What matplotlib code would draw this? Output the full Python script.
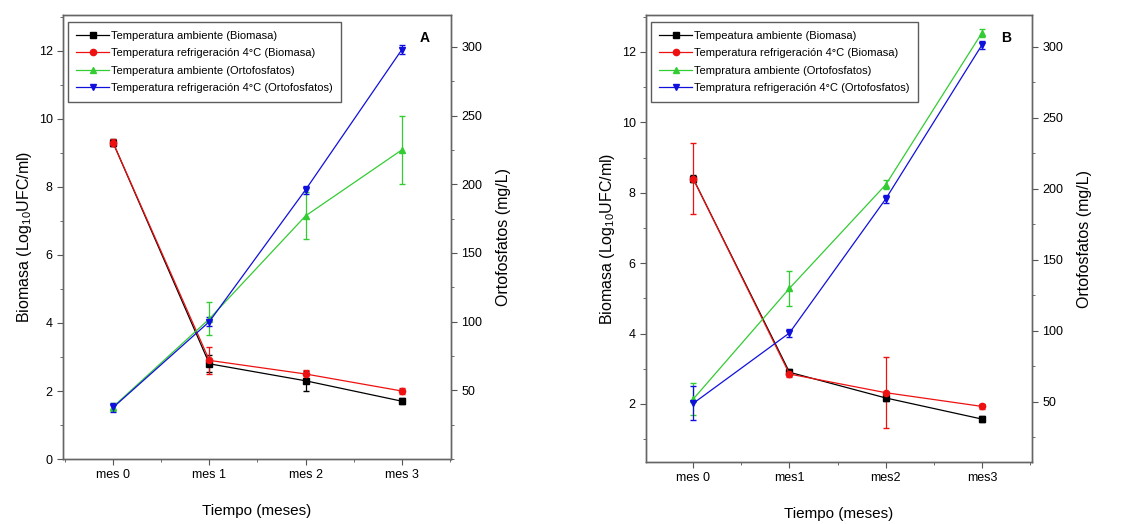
import matplotlib.pyplot as plt
from matplotlib.ticker import MultipleLocator

plt.rcParams["font.family"] = ["Liberation Sans", "DejaVu Sans"]
plt.rcParams["mathtext.fontset"] = "custom"
plt.rcParams["mathtext.rm"] = "Liberation Sans"
plt.rcParams["mathtext.default"] = "regular"

meses_a = ["mes 0", "mes 1", "mes 2", "mes 3"]
meses_b = ["mes 0", "mes1", "mes2", "mes3"]

# panel A
bio_amb_a = [9.3, 2.8, 2.3, 1.7]
bio_amb_a_err = [0.1, 0.25, 0.3, 0.08]
bio_ref_a = [9.3, 2.9, 2.5, 2.0]
bio_ref_a_err = [0.1, 0.4, 0.12, 0.08]
orto_amb_a = [38, 102, 177, 225]
orto_amb_a_err = [3, 12, 17, 25]
orto_ref_a = [37.5, 100, 196, 298]
orto_ref_a_err = [3, 3, 3, 3]

# panel B
bio_amb_b = [8.4, 2.9, 2.17, 1.57]
bio_amb_b_err = [0.1, 0.08, 0.1, 0.08]
bio_ref_b = [8.4, 2.85, 2.32, 1.93]
bio_ref_b_err = [1.0, 0.08, 1.0, 0.08]
orto_amb_b = [52, 130, 203, 310]
orto_amb_b_err = [11, 12.5, 3, 3]
orto_ref_b = [49, 98.6, 193, 301.5]
orto_ref_b_err = [12, 3, 3, 3]

labels_a = [
    "Temperatura ambiente (Biomasa)",
    "Temperatura refrigeración 4°C (Biomasa)",
    "Temperatura ambiente (Ortofosfatos)",
    "Temperatura refrigeración 4°C (Ortofosfatos)",
]
labels_b = [
    "Tempeatura ambiente (Biomasa)",
    "Temperatura refrigeración 4°C (Biomasa)",
    "Tempratura ambiente (Ortofosfatos)",
    "Tempratura refrigeración 4°C (Ortofosfatos)",
]

colors = ["black", "#ee1111", "#33cc33", "#1010dd"]
markers = ["s", "o", "^", "v"]


def panel(rect, meses, bio, orto, labels, letter, xlim, ylim, ylim2, yticks):
    ax = fig.add_axes(rect)
    ax2 = ax.twinx()
    x = list(range(len(meses)))
    handles = []
    for i, (y, e) in enumerate(bio):
        c = ax.errorbar(x, y, yerr=e, color=colors[i], marker=markers[i],
                        markersize=4.5, lw=0.9, capsize=2, elinewidth=0.9, label=labels[i])
        handles.append(c.lines[0])
    for j, (y, e) in enumerate(orto):
        i = j + 2
        c = ax2.errorbar(x, y, yerr=e, color=colors[i], marker=markers[i],
                         markersize=5, lw=0.9, capsize=2, elinewidth=0.9, label=labels[i])
        handles.append(c.lines[0])

    ax.set_xlim(*xlim)
    ax.set_ylim(*ylim)
    ax2.set_ylim(*ylim2)
    ax.set_xticks(x)
    ax.set_xticklabels(meses)
    ax.xaxis.set_minor_locator(MultipleLocator(0.5))
    ax.set_yticks(yticks)
    ax.yaxis.set_minor_locator(MultipleLocator(1))
    ax2.set_yticks([50, 100, 150, 200, 250, 300])
    ax2.yaxis.set_minor_locator(MultipleLocator(25))
    for a in (ax, ax2):
        a.tick_params(labelsize=9, color="#555555", length=4)
        a.tick_params(which="minor", length=2.5, color="#555555")
        for s in a.spines.values():
            s.set_color("#666666")
            s.set_linewidth(1.0)

    ax.set_xlabel("Tiempo (meses)", fontsize=11, labelpad=16)
    ax.set_ylabel("Biomasa (Log$_{10}$UFC/ml)", fontsize=11.5, labelpad=3)
    ax2.set_ylabel("Ortofosfatos (mg/L)", fontsize=11.5, labelpad=10)

    leg = ax2.legend(handles, labels, loc="upper left", bbox_to_anchor=(0.013, 0.984),
                     borderaxespad=0, fontsize=8, frameon=True, fancybox=False,
                     borderpad=0.75, handlelength=2.9, handletextpad=0.2,
                     labelspacing=0.68)
    leg.get_frame().set_edgecolor("#333333")
    leg.get_frame().set_linewidth(1.0)
    ax2.text(0.946, 0.948, letter, transform=ax2.transAxes, fontsize=10,
             fontweight="bold", ha="right", va="center")


fig = plt.figure(figsize=(11.4, 5.24), dpi=100)

panel([0.0553, 0.124, 0.3403, 0.847], meses_a,
      [(bio_amb_a, bio_amb_a_err), (bio_ref_a, bio_ref_a_err)],
      [(orto_amb_a, orto_amb_a_err), (orto_ref_a, orto_ref_a_err)],
      labels_a, "A", (-0.52, 3.51), (0, 13.05), (0, 323), [0, 2, 4, 6, 8, 10, 12])

panel([0.5667, 0.1183, 0.3386, 0.853], meses_b,
      [(bio_amb_b, bio_amb_b_err), (bio_ref_b, bio_ref_b_err)],
      [(orto_amb_b, orto_amb_b_err), (orto_ref_b, orto_ref_b_err)],
      labels_b, "B", (-0.49, 3.52), (0.35, 13.05), (7.7, 322.5), [2, 4, 6, 8, 10, 12])

fig.savefig("out.png", dpi=100)
